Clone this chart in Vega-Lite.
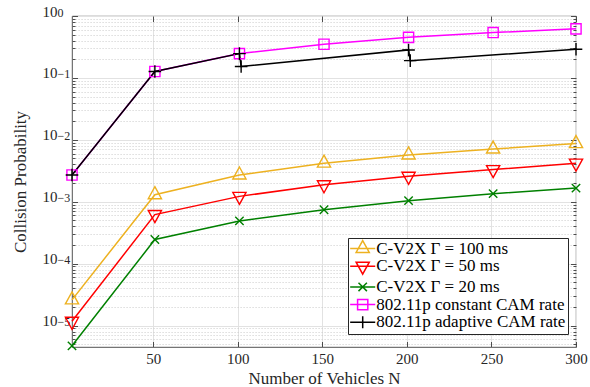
{
  "$schema": "https://vega.github.io/schema/vega-lite/v6.json",
  "width": 504,
  "height": 331,
  "autosize": {"type": "none"},
  "padding": {"left": 72, "top": 16, "right": 14, "bottom": 40},
  "background": "white",
  "config": {
    "view": {"stroke": "#262626", "strokeWidth": 0.8},
    "axis": {
      "labelFont": "Liberation Serif, Times New Roman, serif",
      "labelFontSize": 15,
      "labelColor": "#262626",
      "titleFont": "Liberation Serif, Times New Roman, serif",
      "titleFontSize": 17,
      "titleFontWeight": "normal",
      "titleColor": "#262626",
      "domain": false,
      "tickColor": "#262626",
      "tickWidth": 0.8
    },
    "legend": {
      "labelFont": "Liberation Serif, Times New Roman, serif",
      "labelFontSize": 17,
      "labelColor": "#000000",
      "labelLimit": 400
    }
  },
  "datasets": {
    "d": [
      {"s": "C-V2X Γ = 100 ms", "n": 2, "p": 2.6e-5},
      {"s": "C-V2X Γ = 100 ms", "n": 51, "p": 1.3e-3},
      {"s": "C-V2X Γ = 100 ms", "n": 101, "p": 2.7e-3},
      {"s": "C-V2X Γ = 100 ms", "n": 151, "p": 4.2e-3},
      {"s": "C-V2X Γ = 100 ms", "n": 201, "p": 5.7e-3},
      {"s": "C-V2X Γ = 100 ms", "n": 251, "p": 7.1e-3},
      {"s": "C-V2X Γ = 100 ms", "n": 300, "p": 8.7e-3},
      {"s": "C-V2X Γ = 50 ms", "n": 2, "p": 1.17e-5},
      {"s": "C-V2X Γ = 50 ms", "n": 51, "p": 6.2e-4},
      {"s": "C-V2X Γ = 50 ms", "n": 101, "p": 1.22e-3},
      {"s": "C-V2X Γ = 50 ms", "n": 151, "p": 1.88e-3},
      {"s": "C-V2X Γ = 50 ms", "n": 201, "p": 2.57e-3},
      {"s": "C-V2X Γ = 50 ms", "n": 251, "p": 3.3e-3},
      {"s": "C-V2X Γ = 50 ms", "n": 300, "p": 4.2e-3},
      {"s": "C-V2X Γ = 20 ms", "n": 2, "p": 4.7e-6},
      {"s": "C-V2X Γ = 20 ms", "n": 51, "p": 2.45e-4},
      {"s": "C-V2X Γ = 20 ms", "n": 101, "p": 4.9e-4},
      {"s": "C-V2X Γ = 20 ms", "n": 151, "p": 7.4e-4},
      {"s": "C-V2X Γ = 20 ms", "n": 201, "p": 1.04e-3},
      {"s": "C-V2X Γ = 20 ms", "n": 251, "p": 1.35e-3},
      {"s": "C-V2X Γ = 20 ms", "n": 300, "p": 1.66e-3},
      {"s": "802.11p constant CAM rate", "n": 2, "p": 2.7e-3},
      {"s": "802.11p constant CAM rate", "n": 51, "p": 0.127},
      {"s": "802.11p constant CAM rate", "n": 101, "p": 0.247},
      {"s": "802.11p constant CAM rate", "n": 151, "p": 0.35},
      {"s": "802.11p constant CAM rate", "n": 201, "p": 0.452},
      {"s": "802.11p constant CAM rate", "n": 251, "p": 0.54},
      {"s": "802.11p constant CAM rate", "n": 300, "p": 0.62},
      {"s": "802.11p adaptive CAM rate", "n": 2, "p": 2.7e-3},
      {"s": "802.11p adaptive CAM rate", "n": 51, "p": 0.127},
      {"s": "802.11p adaptive CAM rate", "n": 101, "p": 0.247},
      {"s": "802.11p adaptive CAM rate", "n": 102, "p": 0.153},
      {"s": "802.11p adaptive CAM rate", "n": 201, "p": 0.283},
      {"s": "802.11p adaptive CAM rate", "n": 202, "p": 0.19},
      {"s": "802.11p adaptive CAM rate", "n": 300, "p": 0.29}
    ]
  },
  "resolve": {
    "scale": {"color": "independent", "shape": "independent"},
    "axis": {"x": "independent", "y": "independent"}
  },
  "layer": [
    {
      "data": {"name": "d"},
      "mark": {"type": "line", "strokeWidth": 1.5},
      "encoding": {
        "x": {
          "field": "n", "type": "quantitative",
          "scale": {"domain": [2, 300], "nice": false, "zero": false},
          "axis": {
            "orient": "bottom", "values": [50, 100, 150, 200, 250, 300],
            "grid": true, "gridColor": "#e2e2e2", "gridWidth": 1,
            "ticks": false, "labelPadding": 4, "labelFlush": false,
            "title": "Number of Vehicles N", "titleY": 36, "titleBaseline": "alphabetic"
          }
        },
        "y": {
          "field": "p", "type": "quantitative",
          "scale": {"type": "log", "domain": [4.5e-6, 1], "nice": false},
          "axis": {
            "orient": "left", "values": [1e-5, 1e-4, 1e-3, 1e-2, 1e-1, 1],
            "grid": true, "gridColor": "#e2e2e2", "gridWidth": 1,
            "ticks": false, "labelPadding": 15, "labelAlign": "right", "labelBaseline": "alphabetic", "labelDy": 9, "labelFlush": false,
            "labelExpr": "'10'",
            "title": "Collision Probability", "titleX": -52, "titleBaseline": "middle"
          }
        },
        "color": {
          "field": "s", "type": "nominal", "legend": null,
          "scale": {
            "domain": ["C-V2X Γ = 100 ms", "C-V2X Γ = 50 ms", "C-V2X Γ = 20 ms", "802.11p constant CAM rate", "802.11p adaptive CAM rate"],
            "range": ["#EDB120", "#FF0000", "#008000", "#FF00FF", "#000000"]
          }
        }
      }
    },
    {
      "data": {"name": "d"},
      "mark": {"type": "point", "filled": false, "size": 144, "strokeWidth": 1.4, "opacity": 1},
      "encoding": {
        "x": {
          "field": "n", "type": "quantitative",
          "axis": {"orient": "bottom", "values": [50, 100, 150, 200, 250, 300], "offset": -5.5, "tickSize": 5.5, "labels": false, "grid": false, "title": null}
        },
        "y": {
          "field": "p", "type": "quantitative",
          "axis": {
            "orient": "left",
            "values": [5e-6, 6e-6, 7e-6, 8e-6, 9e-6, 2e-5, 3e-5, 4e-5, 5e-5, 6e-5, 7e-5, 8e-5, 9e-5, 2e-4, 3e-4, 4e-4, 5e-4, 6e-4, 7e-4, 8e-4, 9e-4, 0.002, 0.003, 0.004, 0.005, 0.006, 0.007, 0.008, 0.009, 0.02, 0.03, 0.04, 0.05, 0.06, 0.07, 0.08, 0.09, 0.2, 0.3, 0.4, 0.5, 0.6, 0.7, 0.8, 0.9],
            "grid": true, "gridColor": "#c8c8c8", "gridDash": [1.2, 1.8], "gridWidth": 0.8,
            "ticks": false, "labels": false, "title": null
          }
        },
        "color": {
          "field": "s", "type": "nominal", "legend": null,
          "scale": {
            "domain": ["C-V2X Γ = 100 ms", "C-V2X Γ = 50 ms", "C-V2X Γ = 20 ms", "802.11p constant CAM rate", "802.11p adaptive CAM rate"],
            "range": ["#EDB120", "#FF0000", "#008000", "#FF00FF", "#000000"]
          }
        },
        "shape": {
          "field": "s", "type": "nominal", "legend": null,
          "scale": {
            "domain": ["C-V2X Γ = 100 ms", "C-V2X Γ = 50 ms", "C-V2X Γ = 20 ms", "802.11p constant CAM rate", "802.11p adaptive CAM rate"],
            "range": [
              "M0,-1.33L1.1,0.67L-1.1,0.67Z",
              "M0,1.33L1.1,-0.67L-1.1,-0.67Z",
              "M-0.7,-0.7L0.7,0.7M-0.7,0.7L0.7,-0.7",
              "M-0.85,-0.85H0.85V0.85H-0.85Z",
              "M-1.05,0H1.05M0,-1.05V1.05"
            ]
          }
        }
      }
    },
    {
      "data": {"values": []},
      "mark": {"type": "point", "filled": false},
      "encoding": {
        "x": {
          "field": "n", "type": "quantitative",
          "axis": {"orient": "top", "values": [50, 100, 150, 200, 250, 300], "offset": -5.5, "tickSize": 5.5, "labels": false, "grid": false, "title": null}
        },
        "y": {
          "field": "p", "type": "quantitative",
          "axis": {"orient": "left", "values": [1e-5, 1e-4, 1e-3, 1e-2, 1e-1, 1], "offset": -5.5, "tickSize": 5.5, "labels": false, "grid": false, "title": null}
        },
        "color": {
          "field": "s", "type": "nominal",
          "scale": {
            "domain": ["C-V2X Γ = 100 ms", "C-V2X Γ = 50 ms", "C-V2X Γ = 20 ms", "802.11p constant CAM rate", "802.11p adaptive CAM rate"],
            "range": ["#EDB120", "#FF0000", "#008000", "#FF00FF", "#000000"]
          },
          "legend": {
            "title": null, "orient": "none", "legendX": 276, "legendY": 222,
            "strokeColor": "#262626", "fillColor": "white", "padding": 2, "rowPadding": -0.3,
            "symbolSize": 196, "symbolStrokeWidth": 1.5, "symbolOffset": 4.2, "labelOffset": 5,
            "symbolOpacity": 1, "symbolFillColor": "transparent",
            "labelFont": "Liberation Serif, Times New Roman, serif", "labelFontSize": 17
          }
        },
        "shape": {
          "field": "s", "type": "nominal",
          "scale": {
            "domain": ["C-V2X Γ = 100 ms", "C-V2X Γ = 50 ms", "C-V2X Γ = 20 ms", "802.11p constant CAM rate", "802.11p adaptive CAM rate"],
            "range": [
              "M-1.79,0H1.79M0,-1.14L0.94,0.57L-0.94,0.57Z",
              "M-1.79,0H1.79M0,1.14L0.94,-0.57L-0.94,-0.57Z",
              "M-1.79,0H1.79M-0.6,-0.6L0.6,0.6M-0.6,0.6L0.6,-0.6",
              "M-1.79,0H1.79M-0.73,-0.73H0.73V0.73H-0.73Z",
              "M-1.79,0H1.79M0,-0.86V0.86"
            ]
          },
          "legend": {
            "title": null, "orient": "none", "legendX": 276, "legendY": 222,
            "strokeColor": "#262626", "fillColor": "white", "padding": 2, "rowPadding": -0.3,
            "symbolSize": 196, "symbolStrokeWidth": 1.5, "symbolOffset": 4.2, "labelOffset": 5,
            "symbolOpacity": 1, "symbolFillColor": "transparent",
            "labelFont": "Liberation Serif, Times New Roman, serif", "labelFontSize": 17
          }
        }
      }
    },
    {
      "data": {"values": []},
      "mark": {"type": "point"},
      "encoding": {
        "y": {
          "field": "p", "type": "quantitative",
          "axis": {
            "orient": "left",
            "values": [5e-6, 6e-6, 7e-6, 8e-6, 9e-6, 2e-5, 3e-5, 4e-5, 5e-5, 6e-5, 7e-5, 8e-5, 9e-5, 2e-4, 3e-4, 4e-4, 5e-4, 6e-4, 7e-4, 8e-4, 9e-4, 0.002, 0.003, 0.004, 0.005, 0.006, 0.007, 0.008, 0.009, 0.02, 0.03, 0.04, 0.05, 0.06, 0.07, 0.08, 0.09, 0.2, 0.3, 0.4, 0.5, 0.6, 0.7, 0.8, 0.9],
            "offset": -3, "tickSize": 3, "labels": false, "grid": false, "title": null
          }
        }
      }
    },
    {
      "data": {"values": []},
      "mark": {"type": "point"},
      "encoding": {
        "y": {
          "field": "p", "type": "quantitative",
          "axis": {
            "orient": "left", "values": [1e-5, 1e-4, 1e-3, 1e-2, 1e-1, 1],
            "ticks": false, "grid": false, "title": null,
            "labelPadding": 15, "labelAlign": "left", "labelBaseline": "alphabetic", "labelDy": 2,
            "labelFontSize": 12, "labelFlush": false,
            "labelExpr": "datum.value > 0.5 ? '0' : datum.value > 0.05 ? '−1' : datum.value > 0.005 ? '−2' : datum.value > 0.0005 ? '−3' : datum.value > 0.00005 ? '−4' : '−5'"
          }
        }
      }
    },
    {
      "data": {"values": []},
      "mark": {"type": "point"},
      "encoding": {
        "y": {
          "field": "p", "type": "quantitative",
          "axis": {"orient": "right", "values": [1e-5, 1e-4, 1e-3, 1e-2, 1e-1, 1], "offset": -5.5, "tickSize": 5.5, "labels": false, "grid": false, "title": null}
        }
      }
    },
    {
      "data": {"values": []},
      "mark": {"type": "point"},
      "encoding": {
        "y": {
          "field": "p", "type": "quantitative",
          "axis": {
            "orient": "right",
            "values": [5e-6, 6e-6, 7e-6, 8e-6, 9e-6, 2e-5, 3e-5, 4e-5, 5e-5, 6e-5, 7e-5, 8e-5, 9e-5, 2e-4, 3e-4, 4e-4, 5e-4, 6e-4, 7e-4, 8e-4, 9e-4, 0.002, 0.003, 0.004, 0.005, 0.006, 0.007, 0.008, 0.009, 0.02, 0.03, 0.04, 0.05, 0.06, 0.07, 0.08, 0.09, 0.2, 0.3, 0.4, 0.5, 0.6, 0.7, 0.8, 0.9],
            "offset": -3, "tickSize": 3, "labels": false, "grid": false, "title": null
          }
        }
      }
    }
  ]
}
